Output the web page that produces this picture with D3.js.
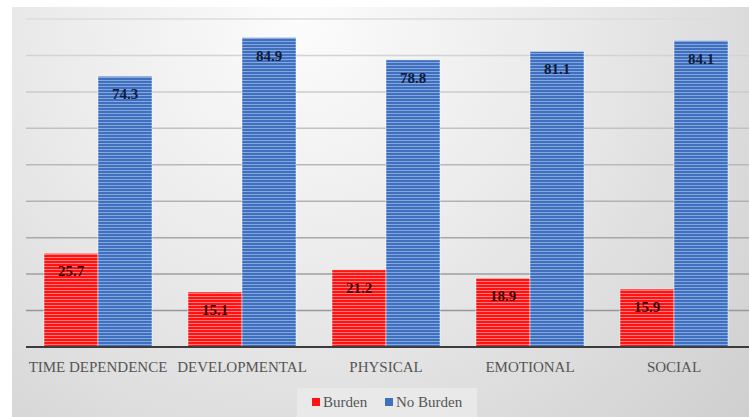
<!DOCTYPE html>
<html>
	<head>
		<script src="https://d3js.org/d3.v7.min.js"></script>
		<style type="text/css">
			body {
				margin: 0;
				background: #fff;
			}
			svg {
				font-family: "Liberation Serif", "DejaVu Serif", serif;
				display: block;
			}
			.axis text {
				font-size: 15px;
				fill: #555;
			}
			.label {
				font-size: 15px;
				font-weight: bold;
				text-anchor: middle;
			}
		</style>
	</head>
	<body>
		<script type="text/javascript">
			var categories = ["TIME DEPENDENCE", "DEVELOPMENTAL", "PHYSICAL", "EMOTIONAL", "SOCIAL"];
			var series = ["Burden", "No Burden"];
			var burden = [25.7, 15.1, 21.2, 18.9, 15.9];
			var noBurden = [74.3, 84.9, 78.8, 81.1, 84.1];
			var gridTicks = [10, 20, 30, 40, 50, 60, 70, 80, 90];

			var W = 749, H = 417;
			var plotBottom = 347, plotTop = 19;

			var colors = {
				"Burden": { fill: "#ff1212", stripe: "#ff7a7a", text: "#3a0b0b" },
				"No Burden": { fill: "#3f70c0", stripe: "#86a7dc", text: "#101c3a" }
			};

			var svg = d3.select("body").append("svg")
				.attr("width", W)
				.attr("height", H);

			var defs = svg.append("defs");

			// background glow
			var bg = defs.append("radialGradient")
				.attr("id", "bg")
				.attr("gradientUnits", "userSpaceOnUse")
				.attr("cx", 300).attr("cy", 20).attr("r", 620);
			bg.append("stop").attr("offset", "0%").attr("stop-color", "#fcfcfc");
			bg.append("stop").attr("offset", "45%").attr("stop-color", "#e9e9e9");
			bg.append("stop").attr("offset", "100%").attr("stop-color", "#cdcdcd");

			// striped fills
			series.forEach(function (s, i) {
				var p = defs.append("pattern")
					.attr("id", "stripe" + i)
					.attr("patternUnits", "userSpaceOnUse")
					.attr("width", 6).attr("height", 3);
				p.append("rect").attr("width", 6).attr("height", 3).attr("fill", colors[s].fill);
				p.append("rect").attr("y", 2).attr("width", 6).attr("height", 1).attr("fill", colors[s].stripe);
			});

			svg.append("rect")
				.attr("x", 12).attr("y", 7)
				.attr("width", W - 12).attr("height", H - 7)
				.attr("fill", "url(#bg)");

			var x0 = d3.scaleBand()
				.domain(categories)
				.range([26, 746])
				.paddingInner(0.25)
				.paddingOuter(0.125);

			var x1 = d3.scaleBand()
				.domain(series)
				.range([0, x0.bandwidth()]);

			var y = d3.scaleLinear()
				.domain([0, 90])
				.range([plotBottom, plotTop]);

			var gridColor = d3.interpolateRgb("#dcdcdc", "#8e8e8e");

			// gridlines
			svg.append("g")
				.selectAll("line")
				.data(gridTicks)
				.enter().append("line")
				.attr("x1", 26)
				.attr("x2", W)
				.attr("y1", function (d) { return y(d); })
				.attr("y2", function (d) { return y(d); })
				.attr("stroke", function (d) { return gridColor(1 - d / 90); })
				.attr("stroke-width", 1.5);

			var data = categories.map(function (c, i) {
				return { cat: c, values: [
					{ key: "Burden", idx: 0, value: burden[i] },
					{ key: "No Burden", idx: 1, value: noBurden[i] }
				] };
			});

			var groups = svg.selectAll(".group")
				.data(data)
				.enter().append("g")
				.attr("class", "group")
				.attr("transform", function (d) { return "translate(" + x0(d.cat) + ",0)"; });

			groups.selectAll("rect")
				.data(function (d) { return d.values; })
				.enter().append("rect")
				.attr("x", function (d) { return x1(d.key); })
				.attr("width", x1.bandwidth())
				.attr("y", function (d) { return y(d.value); })
				.attr("height", function (d) { return plotBottom - y(d.value); })
				.attr("fill", function (d) { return "url(#stripe" + d.idx + ")"; })
				.attr("stroke", "rgba(255,255,255,0.45)")
				.attr("stroke-width", 1);

			groups.selectAll(".label")
				.data(function (d) { return d.values; })
				.enter().append("text")
				.attr("class", "label")
				.attr("x", function (d) { return x1(d.key) + x1.bandwidth() / 2; })
				.attr("y", function (d) { return y(d.value) + 23; })
				.attr("fill", function (d) { return colors[d.key].text; })
				.text(function (d) { return d.value.toFixed(1); });

			// baseline
			svg.append("line")
				.attr("x1", 26).attr("x2", W)
				.attr("y1", plotBottom).attr("y2", plotBottom)
				.attr("stroke", "#3c3c3c")
				.attr("stroke-width", 2);

			// category axis
			var axis = svg.append("g")
				.attr("class", "axis")
				.attr("transform", "translate(0," + plotBottom + ")")
				.call(d3.axisBottom(x0).tickSize(0));
			axis.select(".domain").remove();
			axis.selectAll("text")
				.attr("y", 25)
				.attr("dy", null)
				.style("font-family", "Liberation Serif, serif");

			// legend
			var legend = svg.append("g");
			legend.append("rect")
				.attr("x", 297).attr("y", 388)
				.attr("width", 180).attr("height", 29)
				.attr("fill", "#ebebeb")
				.attr("opacity", 0.8);
			var legendX = [312, 385];
			series.forEach(function (s, i) {
				legend.append("rect")
					.attr("x", legendX[i]).attr("y", 398)
					.attr("width", 8).attr("height", 8)
					.attr("fill", colors[s].fill);
				legend.append("text")
					.attr("x", legendX[i] + 11).attr("y", 407)
					.attr("font-size", 15)
					.attr("fill", "#555")
					.text(s);
			});
		</script>
	</body>
</html>
